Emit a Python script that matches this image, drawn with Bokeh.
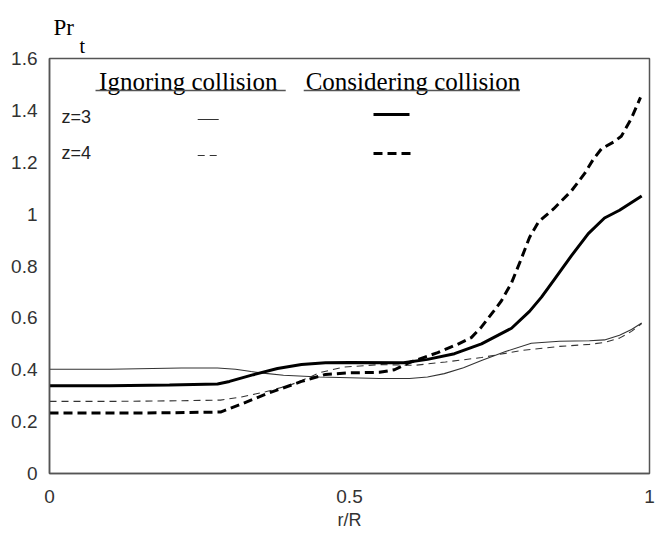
from bokeh.plotting import figure
from bokeh.models import FixedTicker, Range1d, Title
from bokeh.core.properties import value
from bokeh.embed import file_html
from bokeh.resources import INLINE

# Turbulent Prandtl number profiles along the radius
# Ignoring collision, z=3 (thin solid)
ign_z3_x = [0.0, 0.10, 0.22, 0.28, 0.31, 0.336, 0.36, 0.39, 0.45, 0.50, 0.55, 0.60, 0.63, 0.658, 0.69, 0.72, 0.76, 0.803, 0.85, 0.90, 0.925, 0.95, 0.97, 0.987]
ign_z3_y = [0.402, 0.402, 0.407, 0.407, 0.402, 0.393, 0.386, 0.379, 0.372, 0.369, 0.366, 0.366, 0.372, 0.385, 0.408, 0.436, 0.47, 0.502, 0.51, 0.512, 0.515, 0.533, 0.555, 0.58]

# Ignoring collision, z=4 (thin dashed)
ign_z4_x = [0.0, 0.10, 0.20, 0.285, 0.32, 0.36, 0.40, 0.42, 0.452, 0.49, 0.55, 0.608, 0.66, 0.72, 0.786, 0.85, 0.90, 0.925, 0.95, 0.97, 0.987]
ign_z4_y = [0.278, 0.278, 0.28, 0.283, 0.295, 0.315, 0.34, 0.358, 0.39, 0.41, 0.42, 0.417, 0.43, 0.447, 0.474, 0.49, 0.498, 0.505, 0.522, 0.548, 0.578]

# Considering collision, z=3 (thick solid)
con_z3_x = [0.0, 0.10, 0.20, 0.28, 0.30, 0.34, 0.38, 0.42, 0.46, 0.50, 0.59, 0.63, 0.675, 0.72, 0.77, 0.80, 0.82, 0.84, 0.87, 0.898, 0.925, 0.95, 0.987]
con_z3_y = [0.338, 0.338, 0.341, 0.345, 0.355, 0.381, 0.405, 0.42, 0.427, 0.428, 0.427, 0.44, 0.462, 0.50, 0.56, 0.625, 0.68, 0.744, 0.84, 0.925, 0.985, 1.015, 1.07]

# Considering collision, z=4 (thick dashed)
con_z4_x = [0.0, 0.10, 0.20, 0.285, 0.32, 0.363, 0.42, 0.46, 0.50, 0.55, 0.575, 0.60, 0.647, 0.68, 0.703, 0.72, 0.74, 0.753, 0.77, 0.785, 0.80, 0.815, 0.84, 0.87, 0.892, 0.906, 0.92, 0.94, 0.953, 0.97, 0.985]
con_z4_y = [0.233, 0.233, 0.234, 0.237, 0.268, 0.308, 0.355, 0.382, 0.388, 0.39, 0.40, 0.428, 0.466, 0.498, 0.524, 0.565, 0.625, 0.665, 0.735, 0.82, 0.91, 0.97, 1.02, 1.09, 1.157, 1.21, 1.252, 1.278, 1.30, 1.37, 1.45]

x_ticks = [0, 0.5, 1]
x_tick_labels = ["0", "0.5", "1"]
y_ticks = [0, 0.2, 0.4, 0.6, 0.8, 1.0, 1.2, 1.4, 1.6]
y_tick_labels = ["0", "0.2", "0.4", "0.6", "0.8", "1", "1.2", "1.4", "1.6"]

group_titles = ["Ignoring collision", "Considering collision"]
row_labels = ["z=3", "z=4"]

SANS = "Liberation Sans"
SERIF = "Liberation Serif"
TICK_COLOR = "#333333"

p = figure(width=666, height=542, output_backend="svg", toolbar_location=None,
           x_range=Range1d(0, 1), y_range=Range1d(0, 1.6),
           min_border_left=49, min_border_right=17, min_border_top=58, min_border_bottom=69)
p.background_fill_color = "white"
p.border_fill_color = "white"
p.grid.visible = False
p.outline_line_color = "#555555"
p.outline_line_width = 1.5

p.xaxis.ticker = FixedTicker(ticks=x_ticks)
p.xaxis.major_label_overrides = {t: s for t, s in zip(x_ticks, x_tick_labels)}
p.yaxis.ticker = FixedTicker(ticks=y_ticks)
p.yaxis.major_label_overrides = {t: s for t, s in zip(y_ticks, y_tick_labels)}
for ax in (p.xaxis[0], p.yaxis[0]):
    ax.axis_line_color = "#555555"
    ax.axis_line_width = 1.5
    ax.major_tick_line_color = None
    ax.minor_tick_line_color = None
    ax.major_label_text_font = SANS
    ax.major_label_text_font_size = "19px"
    ax.major_label_text_color = TICK_COLOR
p.xaxis.major_label_standoff = 10
p.yaxis.major_label_standoff = 6
p.xaxis.axis_label = "r/R"
p.xaxis.axis_label_text_font = SANS
p.xaxis.axis_label_text_font_size = "18px"
p.xaxis.axis_label_text_font_style = "normal"
p.xaxis.axis_label_text_color = TICK_COLOR
p.xaxis.axis_label_standoff = 4

# Quantity name Pr_t above the frame: "Pr" on top, subscript "t" tucked just below it
p.add_layout(Title(text="t", text_font=SERIF, text_font_size="20px", text_font_style="normal",
                   text_color="black", align="left", offset=30, standoff=0,
                   vertical_align="top"), "above")
p.add_layout(Title(text="Pr", text_font=SERIF, text_font_size="23px", text_font_style="normal",
                   text_color="black", align="left", offset=4, standoff=-10), "above")

# Curves
p.line(ign_z3_x, ign_z3_y, line_color="#333333", line_width=1.1)
p.line(ign_z4_x, ign_z4_y, line_color="#333333", line_width=1.1, line_dash="7 5")
p.line(con_z3_x, con_z3_y, line_color="black", line_width=3)
p.line(con_z4_x, con_z4_y, line_color="black", line_width=3, line_dash="9 5")

# Legend table drawn inside the frame
p.text(x=[0.0826, 0.427], y=[1.511, 1.511], text=group_titles,
       text_font=value(SERIF), text_font_size="25px", text_color="black",
       text_baseline="alphabetic", text_align="left")
p.segment(x0=[0.0767, 0.4237], y0=[1.4765, 1.4765], x1=[0.3937, 0.784], y1=[1.4765, 1.4765],
          line_color="#555555", line_width=1.5)
p.text(x=[0.02, 0.02], y=[1.376, 1.234], text=row_labels,
       text_font=value(SANS), text_font_size="18px", text_color="#222222",
       text_baseline="middle", text_align="left")
p.line([0.247, 0.282], [1.365, 1.365], line_color="#333333", line_width=1.1)
p.line([0.247, 0.284], [1.226, 1.226], line_color="#333333", line_width=1.1, line_dash="7 5")
p.line([0.540, 0.600], [1.384, 1.384], line_color="black", line_width=3)
p.line([0.540, 0.602], [1.234, 1.234], line_color="black", line_width=3, line_dash="9 5")

open("out.html", "w").write(file_html(p, INLINE))
